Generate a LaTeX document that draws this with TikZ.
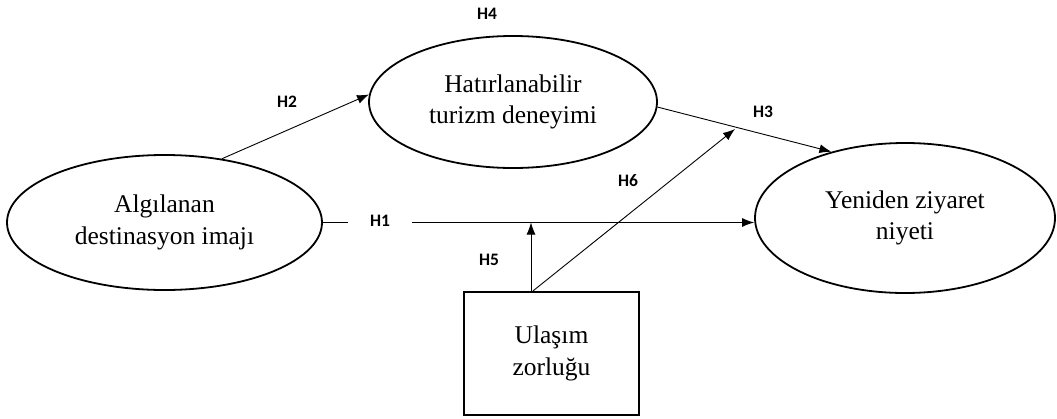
\documentclass[tikz,border=0pt]{standalone}
\usepackage{fontspec}
\setmainfont{Liberation Serif}
\newfontfamily\labelfont{Carlito}
\usetikzlibrary{shapes.geometric,arrows.meta}
\tikzset{
  construct/.style={draw, ellipse, line width=1.8pt, inner sep=0pt, align=center,
    font=\fontsize{25.5}{31.5}\selectfont},
  boxnode/.style={draw, rectangle, line width=2.2pt, inner sep=0pt, align=center,
    font=\fontsize{25.5}{31.5}\selectfont},
  hyp/.style={font=\labelfont\bfseries\fontsize{17.5}{19}\selectfont, inner sep=1pt},
  link/.style={line width=0.9pt, -{Latex[length=12pt,width=9pt]}},
}
\begin{document}
\begin{tikzpicture}[x=1pt,y=-1pt]
\useasboundingbox (0,0) rectangle (1057,418);
\node[construct, minimum width=315pt, minimum height=135pt] (A) at (164.5,222.5) {Algılanan\\destinasyon imajı};
\node[construct, minimum width=288pt, minimum height=132pt] (H) at (513,102) {Hatırlanabilir\\turizm deneyimi};
\node[construct, minimum width=300pt, minimum height=150pt] (Y) at (905,218) {Yeniden ziyaret\\niyeti};
\node[boxnode, minimum width=175pt, minimum height=123pt] (U) at (551.5,353.5) {Ulaşım\\zorluğu};

\coordinate (u5) at ([xshift=-20.5pt]U.north);
\coordinate (u6) at ([xshift=-18.5pt]U.north);
\coordinate (h6end) at (735,129);

% H1
\draw[link] (A.east) -- (Y.west |- A.east);
\node[hyp, fill=white, minimum width=64pt] (h1) at (380,221) {H1};
% H2
\draw[link] (A.48.7) -- (H.177);
% H3
\draw[link] (H.-2.4) -- (Y.138.6);
% H5
\draw[link] (u5) -- (u5 |- A.east);
% H6
\draw[link] (u6) -- (h6end);

\node[hyp] (h2) at (287,102) {H2};
\node[hyp] (h3) at (763,112) {H3};
\node[hyp] (h4) at (487,14) {H4};
\node[hyp] (h5) at (489,260) {H5};
\node[hyp] (h6) at (628,181) {H6};
\end{tikzpicture}
\end{document}
